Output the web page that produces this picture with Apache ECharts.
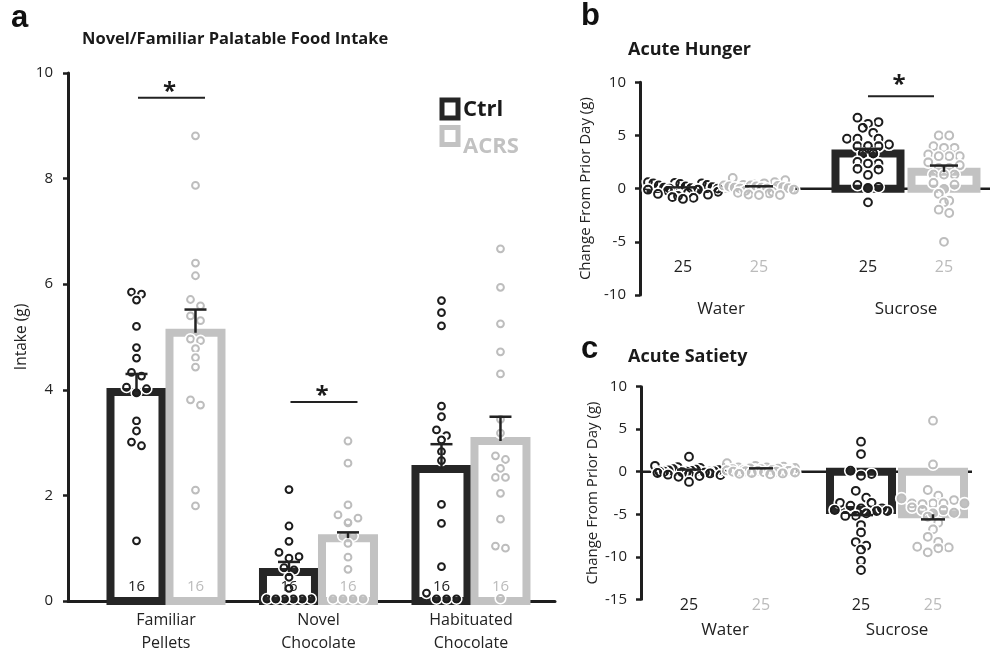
<!DOCTYPE html>
<html><head><meta charset="utf-8">
<script src="https://cdn.jsdelivr.net/npm/echarts@6/dist/echarts.min.js"></script>
<style>html,body{margin:0;padding:0;background:#fff}#c{width:992px;height:653px}</style>
</head><body><div id="c"></div>
<script>
// ---------- DATA ----------
const catsA = ['Familiar\nPellets', 'Novel\nChocolate', 'Habituated\nChocolate'];
const catsBC = ['Water', 'Sucrose'];

const meanCtrlA = [3.96, 0.55, 2.50];
const errCtrlA  = [0.34, 0.19, 0.47];
const meanAcrsA = [5.08, 1.19, 3.03];
const errAcrsA  = [0.44, 0.11, 0.46];
const nCtrlA = [16, 16, 16];
const nAcrsA = [16, 16, 16];
const ptsCtrlA = [
  [5.85, 5.81, 5.70, 5.20, 4.80, 4.60, 4.33, 4.26, 4.05, 4.02, 3.94, 3.41, 3.22, 3.01, 2.94, 1.14],
  [2.11, 1.42, 1.13, 0.92, 0.84, 0.81, 0.63, 0.59, 0.45, 0.24, 0.04, 0.04, 0.04, 0.04, 0.04, 0.04],
  [5.69, 5.46, 5.21, 3.69, 3.49, 3.24, 3.13, 3.05, 2.83, 2.66, 1.83, 1.47, 0.65, 0.15, 0.04, 0.04, 0.04]
];
const ptsAcrsA = [
  [8.81, 7.87, 6.40, 6.16, 5.71, 5.59, 5.40, 5.31, 4.96, 4.93, 4.78, 4.61, 4.43, 3.81, 3.71, 2.10, 1.80],
  [3.03, 2.61, 1.82, 1.63, 1.57, 1.50, 1.48, 1.23, 1.23, 1.09, 0.83, 0.60, 0.04, 0.04, 0.04, 0.04],
  [6.67, 5.94, 5.25, 4.72, 4.30, 3.44, 3.18, 2.75, 2.68, 2.51, 2.34, 2.34, 2.04, 1.55, 1.04, 1.00, 0.05]
];
const sigA = [[0, 9.53], [1, 3.77]];

const meanCtrlB = [0.02, 3.30];
const errCtrlB  = [0.10, 0.45];
const meanAcrsB = [0.10, 1.58];
const errAcrsB  = [0.12, 0.59];
const nCtrlB = [25, 25];
const nAcrsB = [25, 25];
const ptsCtrlB = [
  [0.6, 0.55, 0.5, 0.5, 0.45, 0.35, 0.3, 0.2, 0.15, 0.1, 0.05, 0.0, 0.0, -0.05, -0.1, -0.1, -0.2, -0.3, -0.4, -0.5, -0.57, -0.7, -0.8, -0.87, -0.97],
  [6.67, 6.26, 6.1, 5.72, 5.25, 4.69, 4.69, 4.69, 4.15, 4.06, 3.99, 3.99, 3.99, 3.30, 3.30, 2.52, 2.36, 2.36, 1.86, 1.79, 1.29, 0.35, 0.16, 0.06, -1.29]
];
const ptsAcrsB = [
  [1.0, 0.8, 0.6, 0.5, 0.4, 0.35, 0.3, 0.3, 0.25, 0.2, 0.2, 0.15, 0.1, 0.1, 0.05, 0.0, 0.0, -0.1, -0.2, -0.3, -0.4, -0.45, -0.55, -0.6, -0.6],
  [5.0, 5.0, 3.99, 3.84, 3.84, 3.21, 3.05, 3.05, 3.05, 2.48, 2.2, 1.95, 1.95, 1.32, 1.32, 1.32, 0.53, 0.38, -0.03, -0.5, -1.13, -1.29, -1.98, -2.29, -5.0]
];
const sigB = [[1, 8.68]];

const meanCtrlC = [0.10, -4.5];
const errCtrlC  = [0.15, 0.6];
const meanAcrsC = [0.30, -5.0];
const errAcrsC  = [0.10, 0.6];
const nCtrlC = [25, 25];
const nAcrsC = [25, 25];
const ptsCtrlC = [
  [1.76, 0.7, 0.55, 0.45, 0.4, 0.3, 0.25, 0.2, 0.15, 0.1, 0.05, 0.0, 0.0, 0.0, 0.0, -0.05, -0.1, -0.15, -0.2, -0.3, -0.35, -0.4, -0.5, -0.6, -1.2],
  [3.53, 2.08, 0.12, -0.27, -0.47, -2.24, -3.06, -3.65, -3.65, -4.0, -4.3, -4.31, -4.5, -4.62, -4.62, -4.9, -5.18, -5.2, -6.27, -7.14, -8.27, -8.7, -9.17, -10.47, -11.57]
];
const ptsAcrsC = [
  [1.0, 0.7, 0.6, 0.5, 0.5, 0.45, 0.4, 0.35, 0.3, 0.3, 0.25, 0.2, 0.2, 0.15, 0.1, 0.1, 0.05, 0.0, 0.0, -0.05, -0.1, -0.15, -0.2, -0.25, -0.3],
  [6.0, 0.86, -2.15, -2.82, -3.14, -3.33, -3.73, -3.73, -3.73, -3.73, -3.8, -4.2, -4.5, -4.5, -4.82, -4.9, -5.29, -6.0, -6.78, -7.65, -8.24, -8.82, -8.9, -9.0, -9.48]
];

// ---------- STYLE ----------
const FONT = 'Open Sans';
const DARK = '#262626';
const GREY = '#c2c2c2';
const PDARK = '#1c1c1c';
const PGREY = '#bdbdbd';

const panels = [
  {grid: {left: 68, top: 73, width: 487, height: 528}, xmin: -0.6426, xmax: 2.551, ymin: 0, ymax: 10, yint: 2,
   cats: catsA, catFont: 16, off: 29.5, barW: 52, cap: 22, r: 3.4, s: 10, maxW: 44, binH: 7, nY: 0.27, nFont: 15, labMargin: 8,
   yName: 'Intake (g)', yNameGap: 38, yNameFont: 15.5, yLabMargin: 15, yFont: 15,
   sigL: -28, sigR: 39, starDy: 6,
   mc: meanCtrlA, ec: errCtrlA, ma: meanAcrsA, ea: errAcrsA, nc: nCtrlA, na: nAcrsA, pc: ptsCtrlA, pa: ptsAcrsA, sig: sigA},
  {grid: {left: 640, top: 82.3, width: 350, height: 212.7}, xmin: -0.4378, xmax: 1.4541, ymin: -10, ymax: 10, yint: 5,
   cats: catsBC, catFont: 17, off: 38, barW: 65, cap: 28, r: 3.9, s: 10.5, maxW: 70, binH: 7, nY: -7.45, nFont: 16, labMargin: 3,
   yName: 'Change From Prior Day (g)', yNameGap: 47, yNameFont: 15, yLabMargin: 14, yFont: 15,
   sigL: -38, sigR: 28, starDy: 1,
   mc: meanCtrlB, ec: errCtrlB, ma: meanAcrsB, ea: errAcrsB, nc: nCtrlB, na: nAcrsB, pc: ptsCtrlB, pa: ptsAcrsB, sig: sigB},
  {grid: {left: 641, top: 386.7, width: 331, height: 212.6}, xmin: -0.4884, xmax: 1.436, ymin: -15, ymax: 10, yint: 5,
   cats: catsBC, catFont: 17, off: 36, barW: 62, cap: 24, r: 3.9, s: 10.5, maxW: 68, binH: 7, nY: -15.7, nFont: 16, labMargin: 19,
   yName: 'Change From Prior Day (g)', yNameGap: 41, yNameFont: 15, yLabMargin: 14, yFont: 15,
   sigL: 0, sigR: 0, starDy: 0,
   mc: meanCtrlC, ec: errCtrlC, ma: meanAcrsC, ea: errAcrsC, nc: nCtrlC, na: nAcrsC, pc: ptsCtrlC, pa: ptsAcrsC, sig: []}
];

function gcd(a, b) { return b ? gcd(b, a % b) : a; }

// row-wise jitter: points of similar value share a row, spread evenly (px offsets)
function rowJitter(vals, ppu, binH, s, maxW) {
  const idx = vals.map((v, i) => i).sort((a, b) => vals[b] - vals[a]);
  const out = [];
  let row = [];
  const flush = () => {
    const n = row.length;
    const sp = n > 1 ? Math.min(s, maxW / (n - 1)) : 0;
    let step = 1;
    for (const st of [5, 3, 7, 2]) { if (st < n && gcd(st, n) === 1) { step = st; break; } }
    row.forEach((i, j) => { const slot = (j * step) % n; out[i] = (slot - (n - 1) / 2) * sp; });
    row = [];
  };
  idx.forEach(i => {
    if (row.length && (vals[row[0]] - vals[i]) * ppu > binH) flush();
    row.push(i);
  });
  flush();
  return out;
}

const grids = [], xAxes = [], yAxes = [], series = [];
panels.forEach((P, k) => {
  grids.push(Object.assign({containLabel: false, outerBoundsMode: 'none'}, P.grid));
  xAxes.push({
    type: 'value', gridIndex: k, min: P.xmin, max: P.xmax,
    axisLine: {show: k === 0, onZero: false, lineStyle: {color: '#1e1e1e', width: 3}},
    axisTick: {show: false}, splitLine: {show: false},
    axisLabel: {customValues: P.cats.map((c, i) => i), formatter: v => P.cats[Math.round(v)] || '',
      color: '#222', fontFamily: FONT, fontSize: P.catFont, lineHeight: 23, margin: P.labMargin}
  });
  yAxes.push({
    type: 'value', gridIndex: k, min: P.ymin, max: P.ymax, interval: P.yint,
    name: P.yName, nameLocation: 'middle', nameGap: P.yNameGap,
    nameTextStyle: {color: '#222', fontFamily: FONT, fontSize: P.yNameFont},
    axisLine: {show: true, onZero: false, lineStyle: {color: '#1e1e1e', width: 3}},
    axisTick: {show: true, inside: false, length: 5, lineStyle: {color: '#1e1e1e', width: 2.5}},
    splitLine: {show: false},
    axisLabel: {color: '#222', fontFamily: FONT, fontSize: P.yFont, margin: P.yLabMargin}
  });
  const ppu = P.grid.height / (P.ymax - P.ymin);

  if (k > 0) {
    series.push({
      type: 'custom', xAxisIndex: k, yAxisIndex: k, z: 1, silent: true, data: [[0, 0]],
      renderItem: (params, api) => {
        const cs = params.coordSys; const y0 = api.coord([0, 0])[1];
        return {type: 'line', shape: {x1: cs.x, y1: y0, x2: cs.x + cs.width, y2: y0},
          style: {stroke: '#1e1e1e', lineWidth: 2.5}};
      }
    });
  }

  const groups = [
    {means: P.mc, errs: P.ec, ns: P.nc, pts: P.pc, sign: -1, bar: DARK, pt: PDARK, txt: '#222'},
    {means: P.ma, errs: P.ea, ns: P.na, pts: P.pa, sign: 1, bar: GREY, pt: PGREY, txt: '#bbbbbb'}
  ];
  groups.forEach(G => {
    const off = G.sign * P.off;
    series.push({
      type: 'custom', xAxisIndex: k, yAxisIndex: k, z: 2, silent: true,
      data: G.means.map((m, i) => [i, m]),
      renderItem: (params, api) => {
        const c0 = api.coord([api.value(0), 0]);
        const c1 = api.coord([api.value(0), api.value(1)]);
        const top = Math.min(c0[1], c1[1]);
        const h = Math.max(Math.abs(c1[1] - c0[1]), 0.5);
        return {type: 'rect', shape: {x: c0[0] + off - P.barW / 2, y: top, width: P.barW, height: h},
          style: {fill: '#fff', stroke: G.bar, lineWidth: 8, lineJoin: 'miter'}};
      }
    });
    const pdata = [];
    G.pts.forEach((arr, i) => {
      const sx = rowJitter(arr, ppu, P.binH, P.s, P.maxW);
      arr.forEach((v, j) => pdata.push([i, v, sx[j]]));
    });
    series.push({
      type: 'custom', xAxisIndex: k, yAxisIndex: k, z: 3, silent: true, data: pdata,
      renderItem: (params, api) => {
        const c = api.coord([api.value(0), api.value(1)]);
        const cx = c[0] + off + api.value(2), cy = c[1];
        return {type: 'group', children: [
          {type: 'circle', shape: {cx, cy, r: P.r + 1.8}, style: {fill: 'none', stroke: '#fff', lineWidth: 1.8}},
          {type: 'circle', shape: {cx, cy, r: P.r}, style: {fill: 'none', stroke: G.pt, lineWidth: 2}}
        ]};
      }
    });
    series.push({
      type: 'custom', xAxisIndex: k, yAxisIndex: k, z: 4, silent: true,
      data: G.means.map((m, i) => [i, m, G.errs[i]]),
      renderItem: (params, api) => {
        const m = api.value(1), e = api.value(2);
        const dir = m >= 0 ? 1 : -1;
        const c0 = api.coord([api.value(0), m]);
        const c1 = api.coord([api.value(0), m + dir * e]);
        const x = c0[0] + off;
        return {type: 'group', children: [
          {type: 'line', shape: {x1: x, y1: c0[1], x2: x, y2: c1[1]}, style: {stroke: '#222', lineWidth: 2.5}},
          {type: 'line', shape: {x1: x - P.cap / 2, y1: c1[1], x2: x + P.cap / 2, y2: c1[1]}, style: {stroke: '#222', lineWidth: 2.5}}
        ]};
      }
    });
    series.push({
      type: 'custom', xAxisIndex: k, yAxisIndex: k, z: 5, silent: true,
      data: G.ns.map((n, i) => [i, n]),
      renderItem: (params, api) => {
        const c = api.coord([api.value(0), P.nY]);
        return {type: 'text', x: c[0] + off, y: c[1],
          style: {text: String(api.value(1)), fill: G.txt, font: P.nFont + 'px "' + FONT + '"', align: 'center', verticalAlign: 'middle'}};
      }
    });
  });

  if (P.sig.length) {
    series.push({
      type: 'custom', xAxisIndex: k, yAxisIndex: k, z: 5, silent: true, data: P.sig,
      renderItem: (params, api) => {
        const c = api.coord([api.value(0), api.value(1)]);
        const x1 = c[0] + P.sigL, x2 = c[0] + P.sigR;
        return {type: 'group', children: [
          {type: 'line', shape: {x1, y1: c[1], x2, y2: c[1]}, style: {stroke: '#222', lineWidth: 2}},
          {type: 'text', x: (x1 + x2) / 2 - 2, y: c[1] + P.starDy, style: {text: '*', fill: '#1a1a1a', font: 'bold 24px "' + FONT + '"', align: 'center', verticalAlign: 'bottom'}}
        ]};
      }
    });
  }
});

const LET = 'bold 31px "Liberation Sans"';
const graphic = [
  {type: 'text', left: 11, top: 3, style: {text: 'a', font: LET, fill: '#111'}},
  {type: 'text', left: 82, top: 31, style: {text: 'Novel/Familiar Palatable Food Intake', font: 'bold 16.5px "' + FONT + '"', fill: '#1a1a1a'}},
  {type: 'rect', left: 439.5, top: 97.5, shape: {width: 16, height: 18}, style: {fill: '#fff', stroke: DARK, lineWidth: 5}},
  {type: 'text', left: 463, top: 99, style: {text: 'Ctrl', font: 'bold 22px "' + FONT + '"', fill: '#1a1a1a'}},
  {type: 'rect', left: 439.5, top: 125, shape: {width: 16, height: 17}, style: {fill: '#fff', stroke: GREY, lineWidth: 5}},
  {type: 'text', left: 463, top: 136, style: {text: 'ACRS', font: 'bold 22px "' + FONT + '"', fill: GREY}},
  {type: 'text', left: 581, top: 1, style: {text: 'b', font: LET, fill: '#111'}},
  {type: 'text', left: 628, top: 41, style: {text: 'Acute Hunger', font: 'bold 18px "' + FONT + '"', fill: '#1a1a1a'}},
  {type: 'text', left: 581, top: 334, style: {text: 'c', font: LET, fill: '#111'}},
  {type: 'text', left: 628, top: 348, style: {text: 'Acute Satiety', font: 'bold 18px "' + FONT + '"', fill: '#1a1a1a'}}
];

const chart = echarts.init(document.getElementById('c'), null, {renderer: 'canvas'});
chart.setOption({
  animation: false, backgroundColor: '#fff',
  grid: grids, xAxis: xAxes, yAxis: yAxes, series: series, graphic: graphic
});
</script></body></html>
